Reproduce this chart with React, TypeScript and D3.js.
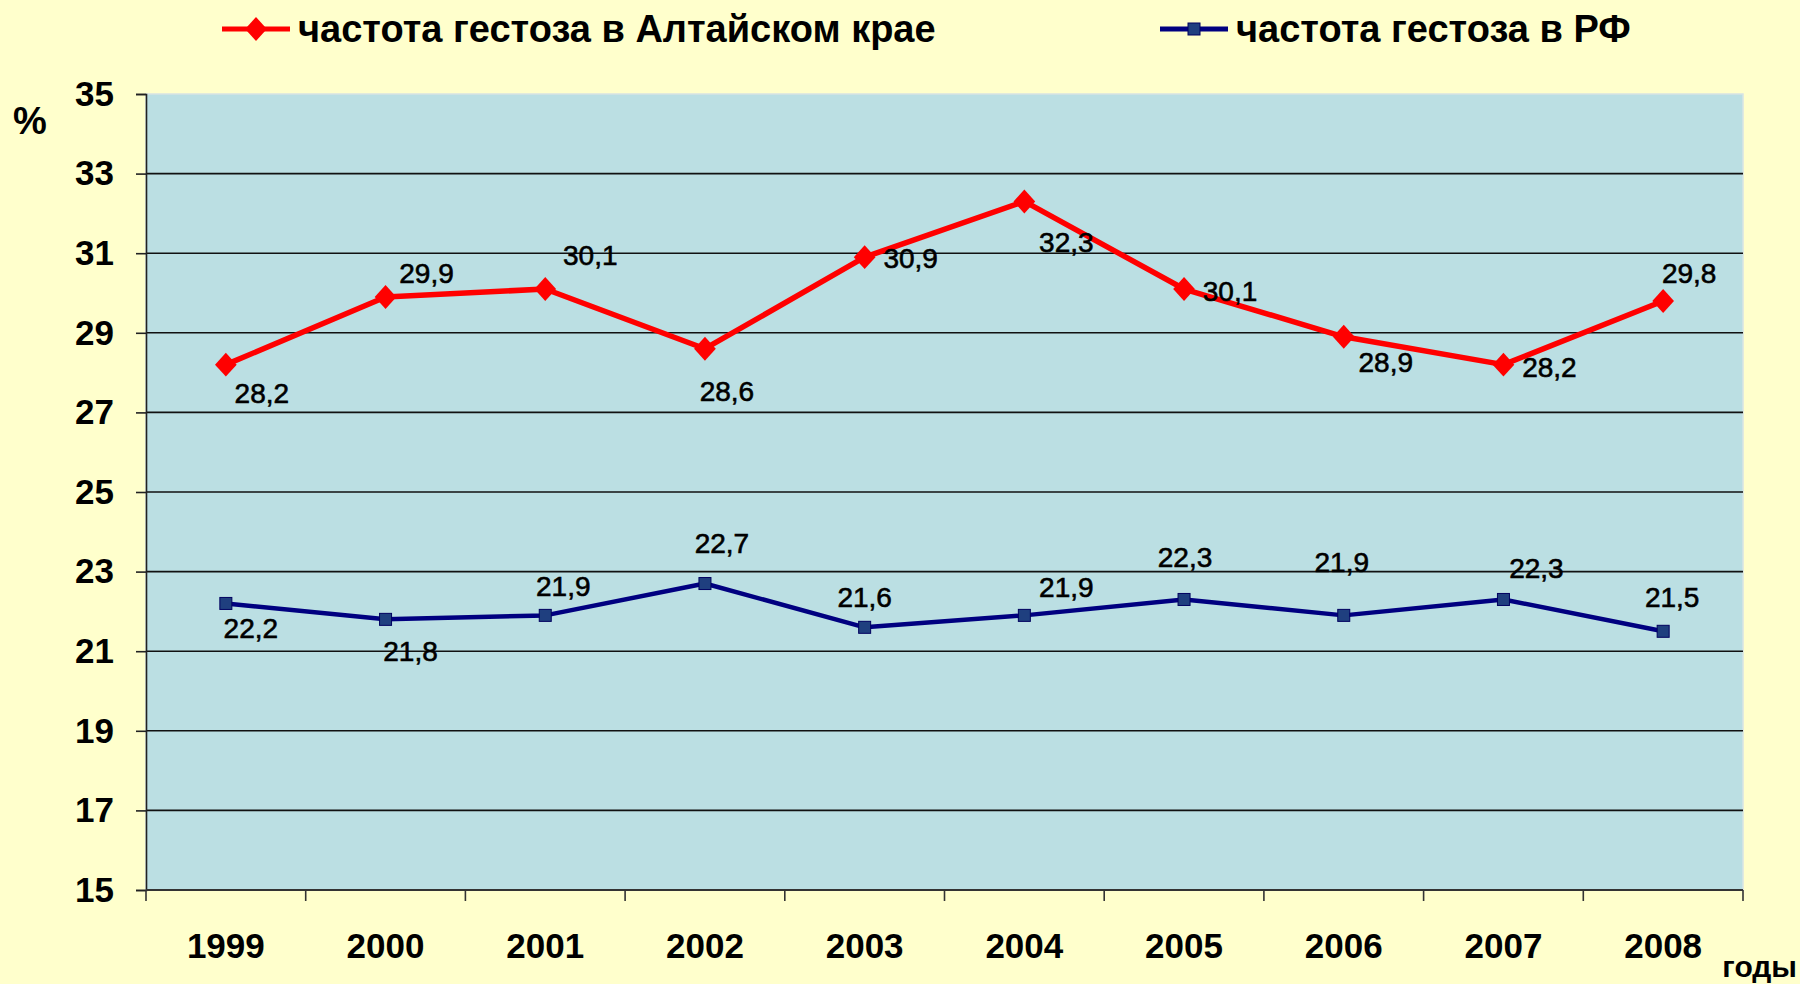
import React, { useEffect, useRef } from 'react';
import * as d3 from 'd3';

const years = ['1999', '2000', '2001', '2002', '2003', '2004', '2005', '2006', '2007', '2008'];
const altaiValues = [28.2, 29.9, 30.1, 28.6, 30.9, 32.3, 30.1, 28.9, 28.2, 29.8];
const rfValues = [22.2, 21.8, 21.9, 22.7, 21.6, 21.9, 22.3, 21.9, 22.3, 21.5];
const yTicks = [15, 17, 19, 21, 23, 25, 27, 29, 31, 33, 35];
const altaiName = 'частота гестоза в Алтайском крае';
const rfName = 'частота гестоза в РФ';

// label nudges (px) relative to the point, as placed in the original
const altaiLabelShift = [[36, 28], [41, -24], [45, -34], [22, 42], [46, 1], [42, 41], [46, 2], [42, 25], [46, 2], [26, -28]];
const rfLabelShift = [[25, 25], [25, 32], [18, -29], [17, -41], [0, -30], [42, -28], [1, -42], [-2, -53], [33, -31], [9, -34]];

const FONT = '"Liberation Sans", Arial, sans-serif';

const App = () => {
  const ref = useRef<SVGSVGElement>(null);

  useEffect(() => {
    draw();
  });

  const draw = () => {
    const left = 146, right = 1743, top = 94, bottom = 890;
    const svg = d3.select(ref.current);
    svg.selectAll('*').remove();

    svg.append('rect').attr('width', 1800).attr('height', 984).attr('fill', '#FFFFCC');

    const x = d3.scaleBand().domain(years).range([left, right]);
    const y = d3.scaleLinear().domain([15, 35]).range([bottom, top]);
    const cx = (d: string) => (x(d) || 0) + x.bandwidth() / 2;

    svg.append('rect')
      .attr('x', left).attr('y', top)
      .attr('width', right - left).attr('height', bottom - top)
      .attr('fill', '#BBDFE3')
      .attr('stroke', '#D8E4E4').attr('stroke-width', 1.5);

    // gridlines
    svg.append('g')
      .selectAll('line')
      .data(yTicks.filter((t) => t !== 15 && t !== 35))
      .enter()
      .append('line')
      .attr('x1', left).attr('x2', right)
      .attr('y1', (d) => y(d)).attr('y2', (d) => y(d))
      .attr('stroke', '#111').attr('stroke-width', 1.6);

    // y axis
    const yAxis = svg.append('g')
      .attr('transform', `translate(${left},0)`)
      .call(d3.axisLeft(y).tickValues(yTicks).tickSize(10).tickPadding(22).tickFormat(d3.format('d')));
    yAxis.select('.domain').attr('stroke', '#222').attr('stroke-width', 1.6);
    yAxis.selectAll('.tick line').attr('stroke', '#222').attr('stroke-width', 1.6);
    yAxis.selectAll('text')
      .attr('font-family', FONT).attr('font-weight', 'bold').attr('font-size', 35).attr('fill', '#000');

    // x axis: ticks on category boundaries
    svg.append('line')
      .attr('x1', left).attr('x2', right).attr('y1', bottom).attr('y2', bottom)
      .attr('stroke', '#333').attr('stroke-width', 1.8);
    svg.append('g')
      .selectAll('line')
      .data([...years.map((d) => x(d) || 0), right])
      .enter()
      .append('line')
      .attr('x1', (d) => d).attr('x2', (d) => d)
      .attr('y1', bottom).attr('y2', bottom + 11)
      .attr('stroke', '#333').attr('stroke-width', 1.6);
    svg.append('g')
      .selectAll('text')
      .data(years)
      .enter()
      .append('text')
      .attr('x', (d) => cx(d)).attr('y', 958)
      .attr('text-anchor', 'middle')
      .attr('font-family', FONT).attr('font-weight', 'bold').attr('font-size', 35)
      .text((d) => d);

    svg.append('text')
      .attr('x', 30).attr('y', 134).attr('text-anchor', 'middle')
      .attr('font-family', FONT).attr('font-weight', 'bold').attr('font-size', 38)
      .text('%');
    svg.append('text')
      .attr('x', 1797).attr('y', 977).attr('text-anchor', 'end')
      .attr('font-family', FONT).attr('font-weight', 'bold').attr('font-size', 30)
      .text('годы');

    const line = d3.line<number>().x((_, i) => cx(years[i])).y((d) => y(d));

    // RF series
    svg.append('path').datum(rfValues)
      .attr('d', line).attr('fill', 'none')
      .attr('stroke', '#000080').attr('stroke-width', 4.5).attr('stroke-linejoin', 'round');
    svg.append('g').selectAll('rect').data(rfValues).enter().append('rect')
      .attr('x', (_, i) => cx(years[i]) - 6).attr('y', (d) => y(d) - 6)
      .attr('width', 12).attr('height', 12)
      .attr('fill', '#1F3F7F').attr('stroke', '#000060').attr('stroke-width', 1);

    // Altai series
    svg.append('path').datum(altaiValues)
      .attr('d', line).attr('fill', 'none')
      .attr('stroke', '#FF0000').attr('stroke-width', 5.5).attr('stroke-linejoin', 'round');
    const diamond = d3.symbol().type(d3.symbolDiamond2).size(300);
    svg.append('g').selectAll('path').data(altaiValues).enter().append('path')
      .attr('d', diamond)
      .attr('transform', (d, i) => `translate(${cx(years[i])},${y(d)}) scale(1,1.1)`)
      .attr('fill', '#FF0000');

    // value labels
    const fmt = (v: number) => v.toFixed(1).replace('.', ',');
    const addLabels = (vals: number[], shift: number[][]) => {
      svg.append('g').selectAll('text').data(vals).enter().append('text')
        .attr('x', (_, i) => cx(years[i]) + shift[i][0])
        .attr('y', (d, i) => y(d) + shift[i][1] + 10)
        .attr('text-anchor', 'middle')
        .attr('font-family', FONT).attr('font-size', 28)
        .attr('fill', '#000').attr('stroke', '#000').attr('stroke-width', 0.6)
        .text((d) => fmt(d));
    };
    addLabels(altaiValues, altaiLabelShift);
    addLabels(rfValues, rfLabelShift);

    // legend
    const lg = svg.append('g');
    lg.append('line').attr('x1', 222).attr('x2', 290).attr('y1', 29).attr('y2', 29)
      .attr('stroke', '#FF0000').attr('stroke-width', 5);
    lg.append('path').attr('d', diamond).attr('transform', 'translate(256,29) scale(1,1.1)').attr('fill', '#FF0000');
    lg.append('text').attr('x', 298).attr('y', 42)
      .attr('font-family', FONT).attr('font-weight', 'bold').attr('font-size', 38)
      .text(altaiName);
    lg.append('line').attr('x1', 1160).attr('x2', 1228).attr('y1', 29).attr('y2', 29)
      .attr('stroke', '#000080').attr('stroke-width', 5);
    lg.append('rect').attr('x', 1188).attr('y', 23).attr('width', 12).attr('height', 12)
      .attr('fill', '#1F3F7F').attr('stroke', '#000060');
    lg.append('text').attr('x', 1236).attr('y', 42)
      .attr('font-family', FONT).attr('font-weight', 'bold').attr('font-size', 38)
      .text(rfName);
  };

  return (
    <svg
      ref={ref}
      width={1800}
      height={984}
      style={{ position: 'absolute', left: 0, top: 0, display: 'block' }}
    />
  );
};

export default App;
